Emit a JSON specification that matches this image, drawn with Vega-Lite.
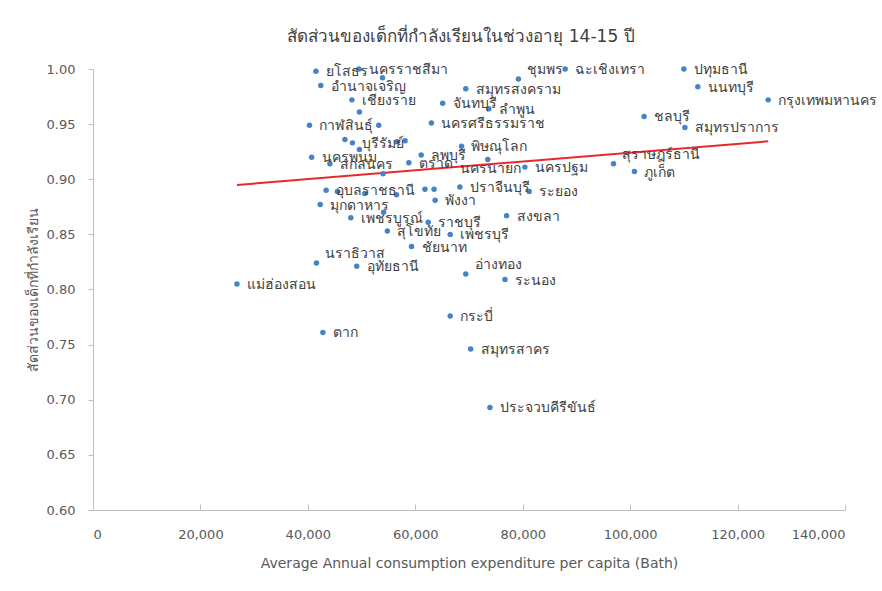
{
  "$schema": "https://vega.github.io/schema/vega-lite/v6.json",
  "width": 752,
  "height": 441,
  "autosize": "none",
  "padding": {"left": 93, "top": 69, "right": 37, "bottom": 81},
  "background": "white",
  "title": {
    "text": "สัดส่วนของเด็กที่กำลังเรียนในช่วงอายุ 14-15 ปี",
    "font": "Tahoma, DejaVu Sans, sans-serif",
    "fontSize": 17,
    "fontWeight": "normal",
    "color": "#404040",
    "offset": 17,
    "dx": -8
  },
  "config": {
    "view": {"stroke": null},
    "font": "Tahoma, DejaVu Sans, sans-serif",
    "axis": {
      "grid": false,
      "domainColor": "#bfbfbf",
      "tickColor": "#bfbfbf",
      "labelColor": "#595959",
      "labelFontSize": 13,
      "labelFont": "Tahoma, DejaVu Sans, sans-serif",
      "titleColor": "#595959",
      "titleFontSize": 14,
      "titleFontWeight": "normal",
      "titleFont": "Tahoma, DejaVu Sans, sans-serif"
    }
  },
  "data": {
    "values": [
      {"province": "แม่ฮ่องสอน", "expenditure": 26800, "share": 0.805},
      {"province": "ตาก", "expenditure": 42800, "share": 0.761},
      {"province": "นราธิวาส", "expenditure": 41600, "share": 0.824},
      {"province": "อุทัยธานี", "expenditure": 49100, "share": 0.821},
      {"province": "อ่างทอง", "expenditure": 69400, "share": 0.814},
      {"province": "ระนอง", "expenditure": 76700, "share": 0.809},
      {"province": "กระบี่", "expenditure": 66500, "share": 0.776},
      {"province": "สมุทรสาคร", "expenditure": 70300, "share": 0.746},
      {"province": "ประจวบคีรีขันธ์", "expenditure": 73900, "share": 0.693},
      {"province": "ชัยนาท", "expenditure": 59300, "share": 0.839},
      {"province": "ชุมพร", "expenditure": 79200, "share": 0.991},
      {"province": "ฉะเชิงเทรา", "expenditure": 87900, "share": 1.0},
      {"province": "ปทุมธานี", "expenditure": 110000, "share": 1.0},
      {"province": "นนทบุรี", "expenditure": 112600, "share": 0.984},
      {"province": "กรุงเทพมหานคร", "expenditure": 125700, "share": 0.972},
      {"province": "ชลบุรี", "expenditure": 102600, "share": 0.957},
      {"province": "สมุทรปราการ", "expenditure": 110200, "share": 0.947},
      {"province": "สุราษฎร์ธานี", "expenditure": 96900, "share": 0.914},
      {"province": "ภูเก็ต", "expenditure": 100800, "share": 0.907},
      {"province": "นครปฐม", "expenditure": 80400, "share": 0.911},
      {"province": "ระยอง", "expenditure": 81200, "share": 0.889},
      {"province": "สมุทรสงคราม", "expenditure": 69400, "share": 0.982},
      {"province": "จันทบุรี", "expenditure": 65100, "share": 0.969},
      {"province": "ลำพูน", "expenditure": 73700, "share": 0.964},
      {"province": "นครศรีธรรมราช", "expenditure": 63000, "share": 0.951},
      {"province": "พิษณุโลก", "expenditure": 68600, "share": 0.93},
      {"province": "ลพบุรี", "expenditure": 61100, "share": 0.922},
      {"province": "ตราด", "expenditure": 58800, "share": 0.915},
      {"province": "นครนายก", "expenditure": 73500, "share": 0.918},
      {"province": "ยโสธร", "expenditure": 41500, "share": 0.998},
      {"province": "นครราชสีมา", "expenditure": 49500, "share": 1.0},
      {"province": "อำนาจเจริญ", "expenditure": 42400, "share": 0.985},
      {"province": "เชียงราย", "expenditure": 48200, "share": 0.972},
      {"province": "กาฬสินธุ์", "expenditure": 40300, "share": 0.949},
      {"province": "บุรีรัมย์", "expenditure": 48300, "share": 0.933},
      {"province": "นครพนม", "expenditure": 40700, "share": 0.92},
      {"province": "สกลนคร", "expenditure": 44100, "share": 0.914},
      {"province": "อุบลราชธานี", "expenditure": 43400, "share": 0.89},
      {"province": "มุกดาหาร", "expenditure": 42300, "share": 0.877},
      {"province": "เพชรบูรณ์", "expenditure": 48000, "share": 0.865},
      {"province": "สุโขทัย", "expenditure": 54800, "share": 0.853},
      {"province": "ราชบุรี", "expenditure": 62400, "share": 0.861},
      {"province": "เพชรบุรี", "expenditure": 66500, "share": 0.85},
      {"province": "พังงา", "expenditure": 63700, "share": 0.881},
      {"province": "ปราจีนบุรี", "expenditure": 68300, "share": 0.893},
      {"province": "สงขลา", "expenditure": 77000, "share": 0.867},
      {"province": "", "expenditure": 53900, "share": 0.992},
      {"province": "", "expenditure": 49600, "share": 0.961},
      {"province": "", "expenditure": 53200, "share": 0.949},
      {"province": "", "expenditure": 46900, "share": 0.936},
      {"province": "", "expenditure": 49600, "share": 0.927},
      {"province": "", "expenditure": 56600, "share": 0.934},
      {"province": "", "expenditure": 58100, "share": 0.935},
      {"province": "", "expenditure": 54000, "share": 0.905},
      {"province": "", "expenditure": 45500, "share": 0.889},
      {"province": "", "expenditure": 50600, "share": 0.887},
      {"province": "", "expenditure": 56500, "share": 0.886},
      {"province": "", "expenditure": 61800, "share": 0.891},
      {"province": "", "expenditure": 63500, "share": 0.891},
      {"province": "", "expenditure": 54100, "share": 0.87}
    ]
  },
  "encoding": {
    "x": {
      "field": "expenditure",
      "type": "quantitative",
      "scale": {"domain": [0, 140000], "nice": false, "zero": false},
      "axis": {
        "title": "Average Annual consumption expenditure per capita (Bath)",
        "values": [0, 20000, 40000, 60000, 80000, 100000, 120000, 140000],
        "format": ",.0f",
        "tickSize": -6,
        "labelPadding": 24,
        "titlePadding": 15
      }
    },
    "y": {
      "field": "share",
      "type": "quantitative",
      "scale": {"domain": [0.6, 1.0], "nice": false, "zero": false},
      "axis": {
        "title": "สัดส่วนของเด็กที่กำลังเรียน",
        "values": [0.6, 0.65, 0.7, 0.75, 0.8, 0.85, 0.9, 0.95, 1.0],
        "format": ".2f",
        "tickSize": 5,
        "labelPadding": 13,
        "titlePadding": 6
      }
    }
  },
  "layer": [
    {
      "data": {
        "values": [
          {"expenditure": 26800, "share": 0.8948},
          {"expenditure": 125700, "share": 0.9344}
        ]
      },
      "mark": {"type": "line", "color": "#e8282b", "strokeWidth": 2}
    },
    {
      "mark": {"type": "circle", "size": 30, "color": "#4683c6", "opacity": 1}
    },
    {
      "transform": [
        {"filter": "datum.province !== '' && indexof(['นราธิวาส','อ่างทอง','สุราษฎร์ธานี','ชุมพร','นครนายก'], datum.province) < 0"}
      ],
      "mark": {"type": "text", "align": "left", "baseline": "middle", "dx": 10, "dy": 1, "fontSize": 14, "color": "#404040"},
      "encoding": {"text": {"field": "province"}}
    },
    {
      "transform": [
        {"filter": "indexof(['นราธิวาส','อ่างทอง','สุราษฎร์ธานี','ชุมพร'], datum.province) >= 0"}
      ],
      "mark": {"type": "text", "align": "left", "baseline": "middle", "dx": 9, "dy": -9, "fontSize": 14, "color": "#404040"},
      "encoding": {"text": {"field": "province"}}
    },
    {
      "transform": [{"filter": "datum.province === 'นครนายก'"}],
      "mark": {"type": "text", "align": "center", "baseline": "middle", "dx": 3, "dy": 10, "fontSize": 14, "color": "#404040"},
      "encoding": {"text": {"field": "province"}}
    },
    {
      "data": {"values": [{}]},
      "mark": {"type": "text", "align": "right", "baseline": "middle", "fontSize": 14, "color": "#e8282b"},
      "encoding": {
        "x": {"datum": 123600},
        "y": {"datum": 0.7433},
        "text": {"value": "y = 4E-07x + 0.8841"}
      }
    },
    {
      "data": {"values": [{}]},
      "mark": {"type": "text", "align": "right", "baseline": "middle", "fontSize": 14, "color": "#e8282b"},
      "encoding": {
        "x": {"datum": 123300},
        "y": {"datum": 0.7224},
        "text": {"value": "R² = 0.0172"}
      }
    }
  ]
}
